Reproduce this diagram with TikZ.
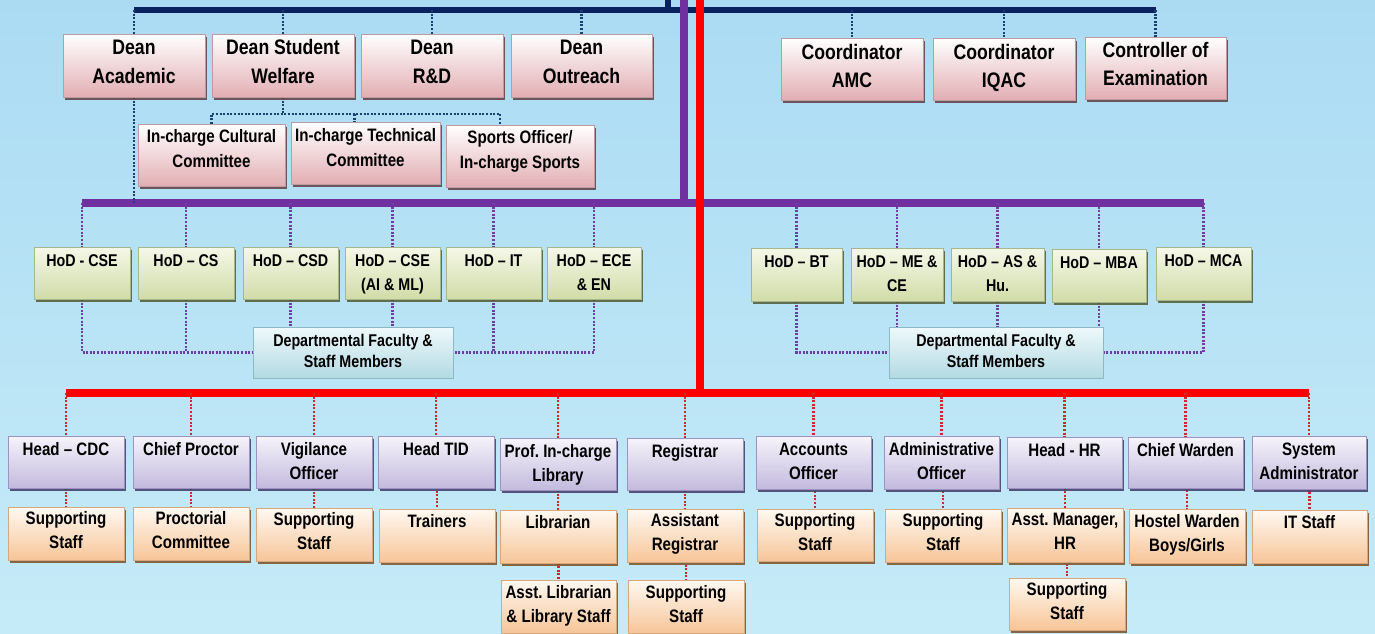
\documentclass[tikz,border=0pt]{standalone}
\usepackage{fontspec}
\setmainfont{Liberation Sans}[FakeStretch=0.84]
\usetikzlibrary{shadows,calc}
\pgfdeclarelayer{front}
\pgfsetlayers{main,front}
\definecolor{bgtop}{HTML}{ABDBF3}
\definecolor{bgbot}{HTML}{C6EBF8}
\definecolor{navy}{HTML}{0B2260}
\definecolor{navydot}{HTML}{1A4070}
\definecolor{purp}{HTML}{7030A0}
\definecolor{purpdot}{HTML}{6A40A8}
\definecolor{redbar}{HTML}{FF0000}
\definecolor{reddot}{HTML}{D02828}
\definecolor{pinkbot}{HTML}{E2AEB3}
\definecolor{pinkdraw}{HTML}{C09A9E}
\definecolor{pinkshad}{HTML}{5E3E40}
\definecolor{greentop}{HTML}{F5F8E8}
\definecolor{greenbot}{HTML}{D1DCA8}
\definecolor{greendraw}{HTML}{A8B78A}
\definecolor{greenshad}{HTML}{4F5A33}
\definecolor{cyantop}{HTML}{EEF9FB}
\definecolor{cyanbot}{HTML}{B3DAE3}
\definecolor{cyandraw}{HTML}{8DB8C4}
\definecolor{lavtop}{HTML}{F6F4FB}
\definecolor{lavbot}{HTML}{C3BADD}
\definecolor{lavdraw}{HTML}{9C93C2}
\definecolor{lavshad}{HTML}{403A66}
\definecolor{peachtop}{HTML}{FFF9F2}
\definecolor{peachbot}{HTML}{F7C598}
\definecolor{peachdraw}{HTML}{D9A77C}
\definecolor{peachshad}{HTML}{7A4E26}
\newcommand\orgbox[8]{%
  \pgfmathsetlengthmacro\myW{#5-#3}%
  \pgfmathsetlengthmacro\myH{#6-#4}%
  \node[#2, anchor=north west, inner sep=0pt, outer sep=0pt] (#1) at (#3,#4)
   {\parbox[c][\myH][t]{\myW}{\centering\rule{0pt}{#7pt}#8\par}};%
}
\tikzset{
  basebox/.style={line width=0.6pt},
  deanbox/.style={basebox, top color=white, bottom color=pinkbot, draw=pinkdraw,
    drop shadow={shadow xshift=1.5pt, shadow yshift=-2.5pt, fill=pinkshad, opacity=0.85},
    font=\fontsize{21}{29}\selectfont\bfseries},
  coordbox/.style={deanbox, font=\fontsize{21}{28}\selectfont\bfseries},
  inchbox/.style={deanbox, font=\fontsize{18}{25}\selectfont\bfseries},
  hodbox/.style={basebox, top color=greentop, bottom color=greenbot, draw=greendraw,
    drop shadow={shadow xshift=1.5pt, shadow yshift=-2.5pt, fill=greenshad, opacity=0.85},
    font=\fontsize{17}{24}\selectfont\bfseries},
  deptbox/.style={basebox, top color=cyantop, bottom color=cyanbot, draw=cyandraw,
    font=\fontsize{17}{21}\selectfont\bfseries},
  headbox/.style={basebox, top color=lavtop, bottom color=lavbot, draw=lavdraw,
    drop shadow={shadow xshift=1.5pt, shadow yshift=-2.5pt, fill=lavshad, opacity=0.85},
    font=\fontsize{18}{24}\selectfont\bfseries},
  staffbox/.style={basebox, top color=peachtop, bottom color=peachbot, draw=peachdraw,
    drop shadow={shadow xshift=1.5pt, shadow yshift=-2.5pt, fill=peachshad, opacity=0.85},
    font=\fontsize{18}{24}\selectfont\bfseries},
  navybar/.style={navy, line width=6pt},
  purpbar/.style={purp, line width=8pt},
  redline/.style={redbar, line width=8pt},
  navydots/.style={navydot, line width=2.2pt, dash pattern=on 2pt off 1.6pt},
  purpdots/.style={purpdot, line width=2.2pt, dash pattern=on 2pt off 1.6pt},
  reddots/.style={reddot, line width=2.2pt, dash pattern=on 2pt off 1.6pt},
}
\begin{document}
\begin{tikzpicture}[x=1pt,y=-1pt]
\useasboundingbox (0,0) rectangle (1375,633);
\shade[top color=bgtop, bottom color=bgbot] (0,0) rectangle (1375,633);

\begin{pgfonlayer}{front}
% Deans
\orgbox{da}{deanbox}{63}{34}{205}{97}{20.5}{Dean\\Academic}
\orgbox{dsw}{deanbox}{212}{34}{354}{97}{20.5}{Dean Student\\Welfare}
\orgbox{drd}{deanbox}{361}{34}{503}{97}{20.5}{Dean\\R\&D}
\orgbox{dout}{deanbox}{511}{34}{652}{97}{20.5}{Dean\\Outreach}
\orgbox{camc}{coordbox}{781}{38}{923}{100}{21.5}{Coordinator\\AMC}
\orgbox{ciqac}{coordbox}{933}{38}{1075}{100}{21.5}{Coordinator\\IQAC}
\orgbox{coe}{coordbox}{1085}{37}{1226}{99}{20.5}{Controller of\\Examination}
% In-charges
\orgbox{ic1}{inchbox}{138}{124}{285}{186}{18.5}{In-charge Cultural\\Committee}
\orgbox{ic2}{inchbox}{291}{122}{440}{184}{19}{In-charge Technical\\Committee}
\orgbox{ic3}{inchbox}{446}{125}{594}{187}{18.5}{Sports Officer/\\In-charge Sports}
% HoDs
\orgbox{hod1}{hodbox}{34}{247}{130}{299}{19}{HoD - CSE}
\orgbox{hod2}{hodbox}{138}{247}{234}{299}{19}{HoD – CS}
\orgbox{hod3}{hodbox}{243}{247}{338}{299}{19}{HoD – CSD}
\orgbox{hod4}{hodbox}{345}{247}{440}{299}{19}{HoD – CSE\\(AI \& ML)}
\orgbox{hod5}{hodbox}{446}{247}{541}{299}{19}{HoD – IT}
\orgbox{hod6}{hodbox}{547}{247}{641}{299}{19}{HoD – ECE\\\& EN}
\orgbox{hod7}{hodbox}{751}{248}{842}{301}{19}{HoD – BT}
\orgbox{hod8}{hodbox}{851}{248}{943}{301}{19}{HoD – ME \&\\CE}
\orgbox{hod9}{hodbox}{951}{248}{1044}{301}{19}{HoD – AS \&\\Hu.}
\orgbox{hod10}{hodbox}{1052}{249}{1146}{302}{19}{HoD – MBA}
\orgbox{hod11}{hodbox}{1156}{247}{1251}{300}{19}{HoD – MCA}
\orgbox{dep1}{deptbox}{253}{327}{453}{378}{19}{Departmental Faculty \&\\Staff Members}
\orgbox{dep2}{deptbox}{889}{327}{1103}{378}{19}{Departmental Faculty \&\\Staff Members}
% Heads
\orgbox{b1}{headbox}{8}{436}{124}{488}{19.5}{Head – CDC}
\orgbox{b2}{headbox}{133}{436}{249}{488}{19.5}{Chief Proctor}
\orgbox{b3}{headbox}{256}{436}{372}{488}{19.5}{Vigilance\\Officer}
\orgbox{b4}{headbox}{378}{436}{494}{488}{19.5}{Head TID}
\orgbox{b5}{headbox}{500}{438}{616}{490}{19.5}{Prof.\ In-charge\\Library}
\orgbox{b6}{headbox}{627}{438}{743}{490}{19.5}{Registrar}
\orgbox{b7}{headbox}{756}{436}{871}{489}{19.5}{Accounts\\Officer}
\orgbox{b8}{headbox}{884}{436}{999}{489}{19.5}{Administrative\\Officer}
\orgbox{b9}{headbox}{1007}{437}{1122}{488}{19.5}{Head - HR}
\orgbox{b10}{headbox}{1128}{437}{1243}{488}{19.5}{Chief Warden}
\orgbox{b11}{headbox}{1252}{436}{1366}{489}{19.5}{System\\Administrator}
% Staff
\orgbox{c1}{staffbox}{8}{507}{124}{560}{17.5}{Supporting\\Staff}
\orgbox{c2}{staffbox}{133}{507}{249}{560}{17.5}{Proctorial\\Committee}
\orgbox{c3}{staffbox}{256}{508}{372}{561}{17.5}{Supporting\\Staff}
\orgbox{c4}{staffbox}{379}{509}{495}{562}{18}{Trainers}
\orgbox{c5}{staffbox}{500}{510}{616}{563}{18}{Librarian}
\orgbox{c6}{staffbox}{627}{509}{743}{562}{17.5}{Assistant\\Registrar}
\orgbox{c7}{staffbox}{757}{509}{873}{561}{17.5}{Supporting\\Staff}
\orgbox{c8}{staffbox}{885}{509}{1001}{562}{17.5}{Supporting\\Staff}
\orgbox{c9}{staffbox}{1007}{508}{1123}{562}{17.5}{Asst.\ Manager,\\HR}
\orgbox{c10}{staffbox}{1129}{509}{1245}{563}{18}{Hostel Warden\\Boys/Girls}
\orgbox{c11}{staffbox}{1252}{510}{1367}{563}{18}{IT Staff}
\orgbox{d5}{staffbox}{501}{580}{616}{633}{18.5}{Asst.\ Librarian\\\& Library Staff}
\orgbox{d6}{staffbox}{628}{580}{744}{633}{18.5}{Supporting\\Staff}
\orgbox{d9}{staffbox}{1009}{578}{1125}{630}{17.5}{Supporting\\Staff}
\end{pgfonlayer}

% ---- bus coordinates ----
\coordinate (navyY) at (0,10);
\coordinate (purpY) at (0,203);
\coordinate (redY) at (0,393);
\coordinate (navyTop) at (668,0);
\coordinate (purpTop) at (684,0);
\coordinate (redTop) at (700,0);
\coordinate (brk) at (0,114);

% ---- bars ----
\draw[navybar] (da.north |- navyY) -- (coe.north |- navyY);
\draw[navybar] (navyTop) -- (navyTop |- navyY);
\draw[purpbar] (hod1.north |- purpY) -- (hod11.north |- purpY);
\draw[purpbar] (purpTop) -- (purpTop |- purpY);
\draw[redline] (b1.north |- redY) -- (b11.north |- redY);
\draw[redline] (redTop) -- (redTop |- redY);

% ---- navy dotted ----
\foreach \n in {da,dsw,drd,dout,camc,ciqac,coe}
  \draw[navydots] (\n.north |- navyY) -- (\n.north);
\draw[navydots] (da.south) -- (da.south |- purpY);
\draw[navydots] (dsw.south) -- (dsw.south |- brk);
\coordinate (ic2t) at ($(ic2.north)+(-11,0)$);
\coordinate (ic3t) at ($(ic3.north)+(-20,0)$);
\draw[navydots] (ic1.north) -- (ic1.north |- brk) -- (ic3t |- brk) -- (ic3t);
\draw[navydots] (ic2t |- brk) -- (ic2t);

% ---- purple dotted ----
\foreach \n in {hod1,hod2,hod3,hod4,hod5,hod6,hod7,hod8,hod9,hod10,hod11}
  \draw[purpdots] (\n.north |- purpY) -- (\n.north);
\draw[purpdots] (hod1.south) |- (dep1.west);
\draw[purpdots] (hod2.south) -- (hod2.south |- dep1.west);
\draw[purpdots] (hod3.south) -- (hod3.south |- dep1.north);
\draw[purpdots] (hod4.south) -- (hod4.south |- dep1.north);
\draw[purpdots] (hod5.south) -- (hod5.south |- dep1.east);
\draw[purpdots] (hod6.south) |- (dep1.east);
\draw[purpdots] (hod7.south) |- (dep2.west);
\draw[purpdots] (hod8.south) -- (hod8.south |- dep2.north);
\draw[purpdots] (hod9.south) -- (hod9.south |- dep2.north);
\draw[purpdots] (hod10.south) -- (hod10.south |- dep2.north);
\draw[purpdots] (hod11.south) |- (dep2.east);

% ---- red dotted ----
\foreach \n in {b1,b2,b3,b4,b5,b6,b7,b8,b9,b10,b11}
  \draw[reddots] (\n.north |- redY) -- (\n.north);
\foreach \a/\b in {b1/c1,b2/c2,b3/c3,b4/c4,b5/c5,b6/c6,b7/c7,b8/c8,b9/c9,b10/c10,b11/c11,c5/d5,c6/d6,c9/d9}
  \draw[reddots] (\a.south) -- (\a.south -| \b.north) -- (\b.north);
\end{tikzpicture}
\end{document}
